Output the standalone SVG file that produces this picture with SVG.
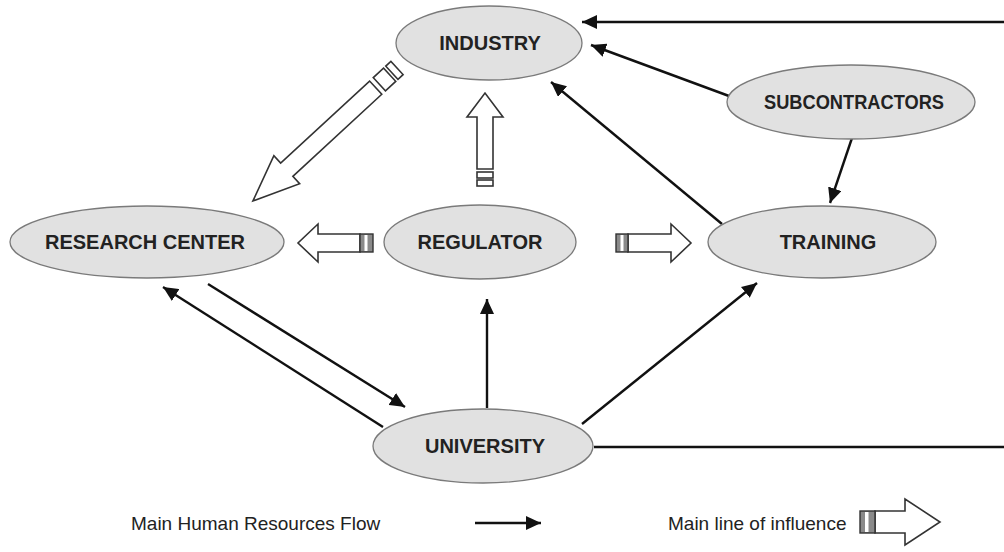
<svg xmlns="http://www.w3.org/2000/svg" width="1004" height="552" viewBox="0 0 1004 552">
<defs>
<marker id="ah" markerUnits="userSpaceOnUse" markerWidth="16" markerHeight="14" refX="15" refY="7" orient="auto">
<path d="M0,0 L15,7 L0,14 z" fill="#111"/>
</marker>
<style>
.node ellipse{fill:#e1e1e1;stroke:#7a7a7a;stroke-width:1.3}
.node text{font-family:"Liberation Sans",Arial,sans-serif;font-weight:bold;font-size:20px;fill:#222;text-anchor:middle}
.con line{stroke:#111;stroke-width:2.4;fill:none}
.con .arr{marker-end:url(#ah)}
.ha{fill:#fff;stroke:#333;stroke-width:1.6;stroke-linejoin:miter}
.st{fill:#8a8a8a;stroke:#333;stroke-width:1.4}
.sw{fill:#fff;stroke:none}
.lg{font-family:"Liberation Sans",Arial,sans-serif;font-size:19px;fill:#222}
</style>
</defs>
<rect width="1004" height="552" fill="#fff"/>

<g id="connectors" class="con">
<line class="arr" x1="1004" y1="22" x2="582" y2="22"/>
<line class="arr" x1="729" y1="96" x2="591" y2="45"/>
<line class="arr" x1="722" y1="224" x2="551" y2="82"/>
<line class="arr" x1="852" y1="138" x2="830" y2="203"/>
<line class="arr" x1="208" y1="284" x2="405" y2="407"/>
<line class="arr" x1="383" y1="427" x2="163" y2="287"/>
<line class="arr" x1="487" y1="408" x2="487" y2="299"/>
<line class="arr" x1="582" y1="424" x2="757" y2="283"/>
<line x1="594" y1="447" x2="1004" y2="447"/>
</g>

<g id="influence-arrows">
<g id="hollow-diag" transform="translate(397,68) rotate(137.3)">
<rect class="ha" x="0" y="-9" width="7" height="18"/>
<rect class="ha" x="10" y="-9" width="14" height="18"/>
<path class="ha" d="M29,-9 H150 V-19 L196,0 L150,19 V9 H29 Z"/>
</g>
<g id="hollow-up">
<path class="ha" d="M477,169 V117 H467 L485,93 L503,117 H493 V169 Z"/>
<rect class="ha" x="477" y="172" width="16" height="6"/>
<rect class="ha" x="477" y="180" width="16" height="6"/>
</g>
<g id="hollow-left">
<path class="ha" d="M360,234 H318 V224 L298,243 L318,262 V252 H360 Z"/>
<rect class="st" x="360" y="234" width="13" height="18"/>
<rect class="sw" x="364.5" y="235" width="3" height="16"/>
</g>
<g id="hollow-right">
<path class="ha" d="M628,234 H671 V224 L691,243 L671,262 V252 H628 Z"/>
<rect class="st" x="616" y="234" width="12" height="18"/>
<rect class="sw" x="620.5" y="235" width="3" height="16"/>
</g>
</g>

<g id="industry" class="node"><ellipse cx="489" cy="43" rx="93" ry="37"/><text x="490" y="50">INDUSTRY</text></g>
<g id="subcontractors" class="node"><ellipse cx="851" cy="102" rx="124" ry="37"/><text x="854" y="109" textLength="180" lengthAdjust="spacingAndGlyphs">SUBCONTRACTORS</text></g>
<g id="research-center" class="node"><ellipse cx="147" cy="242" rx="137" ry="36"/><text x="145" y="249">RESEARCH CENTER</text></g>
<g id="regulator" class="node"><ellipse cx="480" cy="242" rx="96" ry="37"/><text x="480" y="249">REGULATOR</text></g>
<g id="training" class="node"><ellipse cx="822" cy="242" rx="114" ry="36"/><text x="828" y="249">TRAINING</text></g>
<g id="university" class="node"><ellipse cx="483" cy="446" rx="110" ry="37"/><text x="485" y="453">UNIVERSITY</text></g>

<g id="legend">
<text class="lg" x="131" y="530">Main Human Resources Flow</text>
<line x1="475" y1="523" x2="541" y2="523" stroke="#111" stroke-width="2.4" marker-end="url(#ah)"/>
<text class="lg" x="668" y="530">Main line of influence</text>
<path class="ha" d="M875,511 H905 V499 L940,522 L905,545 V533 H875 Z"/>
<rect class="st" x="860" y="511" width="15" height="22"/>
<rect class="sw" x="865" y="512" width="3.5" height="20"/>
</g>
</svg>
